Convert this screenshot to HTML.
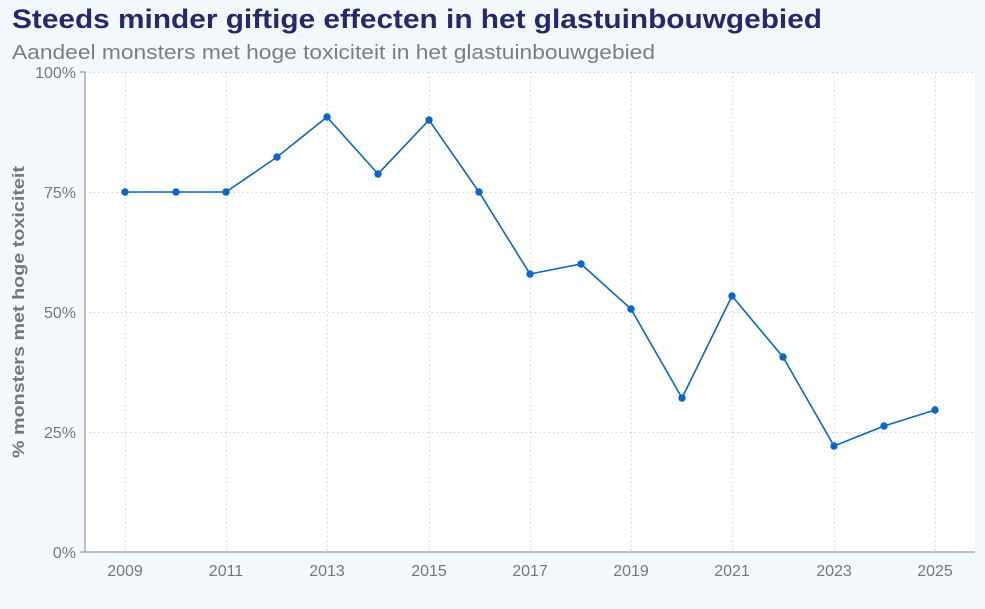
<!DOCTYPE html>
<html><head><meta charset="utf-8"><style>
html,body{margin:0;padding:0;background:#f3f8fd;}
svg{display:block;font-family:"Liberation Sans","DejaVu Sans",sans-serif;}
</style></head><body>
<svg width="985" height="609" viewBox="0 0 985 609" xmlns="http://www.w3.org/2000/svg">
<rect width="985" height="609" fill="#f3f8fd"/>
<text x="12" y="28" font-size="27" font-weight="bold" fill="#232a6c" textLength="810" lengthAdjust="spacingAndGlyphs">Steeds minder giftige effecten in het glastuinbouwgebied</text>
<text x="12" y="59" font-size="20" fill="#7d7d7d" textLength="643" lengthAdjust="spacingAndGlyphs">Aandeel monsters met hoge toxiciteit in het glastuinbouwgebied</text>
<rect x="85" y="72" width="890" height="480" fill="#fff"/>
<g stroke="#d4d4d4" stroke-width="1" stroke-dasharray="1.5,3">
<line x1="85" y1="72.5" x2="975" y2="72.5"/>
<line x1="85" y1="192.5" x2="975" y2="192.5"/>
<line x1="85" y1="312.5" x2="975" y2="312.5"/>
<line x1="85" y1="432.5" x2="975" y2="432.5"/>
<line x1="125.5" y1="72" x2="125.5" y2="552"/>
<line x1="226.5" y1="72" x2="226.5" y2="552"/>
<line x1="327.5" y1="72" x2="327.5" y2="552"/>
<line x1="429.5" y1="72" x2="429.5" y2="552"/>
<line x1="530.5" y1="72" x2="530.5" y2="552"/>
<line x1="631.5" y1="72" x2="631.5" y2="552"/>
<line x1="732.5" y1="72" x2="732.5" y2="552"/>
<line x1="834.5" y1="72" x2="834.5" y2="552"/>
<line x1="935.5" y1="72" x2="935.5" y2="552"/>
</g>
<g stroke="#aaa" stroke-width="1.5">
<line x1="85" y1="72" x2="85" y2="552"/>
<line x1="80" y1="552" x2="975" y2="552"/>
<line x1="80" y1="72" x2="85" y2="72"/>
</g>
<g font-size="16" fill="#777" text-anchor="end">
<text x="76" y="78">100%</text>
<text x="76" y="198">75%</text>
<text x="76" y="318">50%</text>
<text x="76" y="438">25%</text>
<text x="76" y="558">0%</text>
</g>
<g font-size="16" fill="#777" text-anchor="middle">
<text x="125" y="576">2009</text>
<text x="226" y="576">2011</text>
<text x="327" y="576">2013</text>
<text x="429" y="576">2015</text>
<text x="530" y="576">2017</text>
<text x="631" y="576">2019</text>
<text x="732" y="576">2021</text>
<text x="834" y="576">2023</text>
<text x="935" y="576">2025</text>
</g>
<text transform="translate(24,312) rotate(-90)" font-size="17" font-weight="bold" fill="#777" text-anchor="middle" textLength="292" lengthAdjust="spacingAndGlyphs">% monsters met hoge toxiciteit</text>
<polyline fill="none" stroke="#0a66c8" stroke-width="1.6" points="125,192 176,192 226,192 277,157 327,117 378,174 429,120 479,192 530,274 581,264 631,309 682,398 732,296 783,357 834,446 884,426 935,410"/>
<g fill="#0a66c8">
<circle cx="125" cy="192" r="3.7"/><circle cx="176" cy="192" r="3.7"/><circle cx="226" cy="192" r="3.7"/><circle cx="277" cy="157" r="3.7"/><circle cx="327" cy="117" r="3.7"/><circle cx="378" cy="174" r="3.7"/><circle cx="429" cy="120" r="3.7"/><circle cx="479" cy="192" r="3.7"/><circle cx="530" cy="274" r="3.7"/><circle cx="581" cy="264" r="3.7"/><circle cx="631" cy="309" r="3.7"/><circle cx="682" cy="398" r="3.7"/><circle cx="732" cy="296" r="3.7"/><circle cx="783" cy="357" r="3.7"/><circle cx="834" cy="446" r="3.7"/><circle cx="884" cy="426" r="3.7"/><circle cx="935" cy="410" r="3.7"/>
</g>
</svg>
</body></html>
